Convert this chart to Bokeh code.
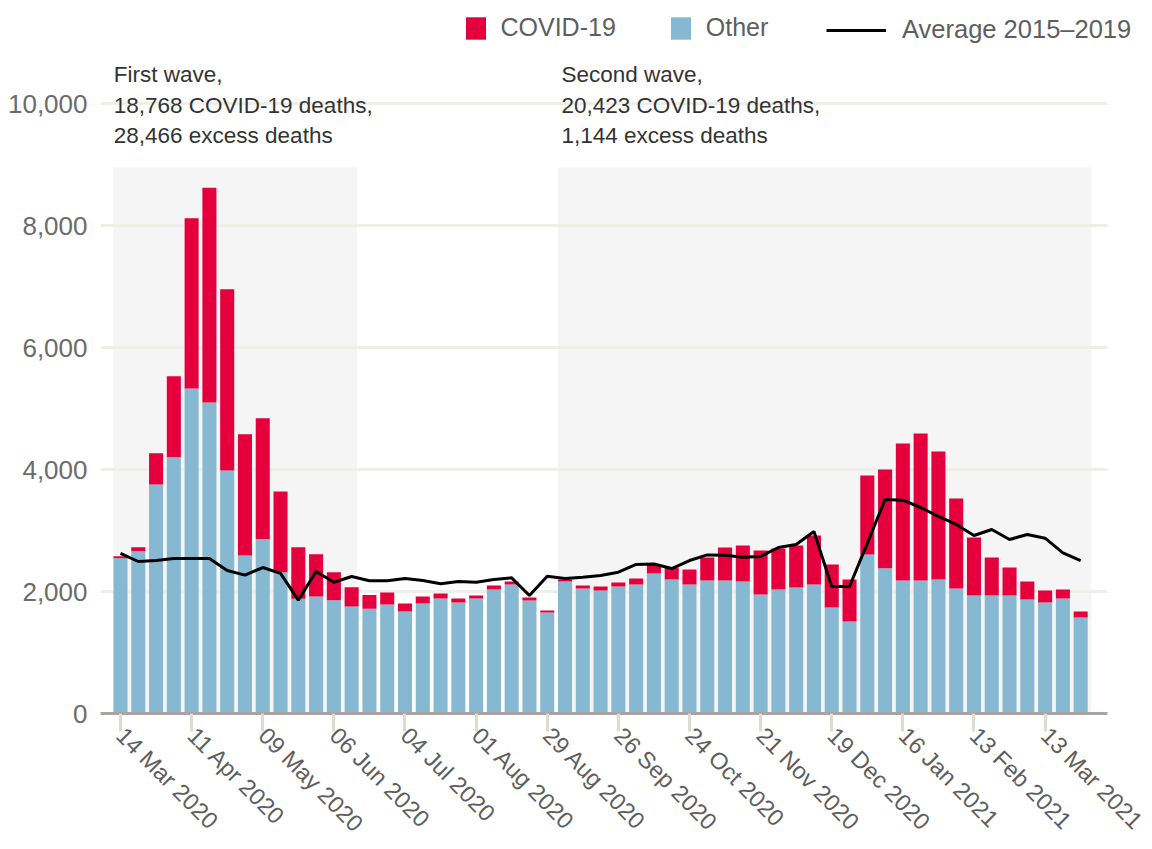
import math
from bokeh.plotting import figure
from bokeh.models import (ColumnDataSource, FixedTicker, Legend, LegendItem,
                          NumeralTickFormatter)
from bokeh.embed import file_html
from bokeh.resources import INLINE
from bokeh.core.properties import value

# ---------------- data (weekly deaths, week ending 14 Mar 2020 .. 27 Mar 2021) ----
week_index = list(range(55))

other = [2545, 2660, 3755, 4200, 5330, 5100, 3985, 2590, 2860, 2315,
         1880, 1920, 1855, 1755, 1718, 1787, 1672, 1803, 1885, 1820,
         1885, 2033, 2115, 1852, 1656, 2164, 2049, 2016, 2082, 2115,
         2295, 2197, 2115, 2180, 2180, 2164, 1951, 2033, 2066, 2115,
         1738, 1508, 2607, 2380, 2180, 2180, 2197, 2049, 1934, 1934,
         1934, 1869, 1820, 1885, 1574]

covid = [35, 65, 510, 1330, 2790, 3520, 2970, 1990, 1980, 1325,
         845, 690, 460, 315, 225, 197, 131, 115, 82, 65,
         49, 65, 49, 50, 33, 33, 49, 66, 66, 98,
         145, 196, 246, 377, 541, 590, 721, 672, 688, 803,
         705, 689, 1295, 1620, 2246, 2410, 2098, 1476, 951, 623,
         459, 295, 196, 148, 98]

average = [2626, 2492, 2508, 2541, 2541, 2541, 2344, 2269, 2393, 2298,
           1859, 2328, 2152, 2246, 2175, 2175, 2213, 2180, 2126, 2164,
           2153, 2197, 2224, 1934, 2251, 2213, 2235, 2262, 2317, 2443,
           2450, 2377, 2508, 2600, 2595, 2560, 2574, 2721, 2770, 2984,
           2082, 2082, 2790, 3508, 3497, 3377, 3230, 3099, 2918, 3017,
           2853, 2934, 2874, 2634, 2508]

tick_index = [0, 4, 8, 12, 16, 20, 24, 28, 32, 36, 40, 44, 48, 52]
tick_labels = ["14 Mar 2020", "11 Apr 2020", "09 May 2020", "06 Jun 2020",
               "04 Jul 2020", "01 Aug 2020", "29 Aug 2020", "26 Sep 2020",
               "24 Oct 2020", "21 Nov 2020", "19 Dec 2020", "16 Jan 2021",
               "13 Feb 2021", "13 Mar 2021"]

y_ticks = [0, 2000, 4000, 6000, 8000, 10000]

# wave periods (in week-index units) and their notes
wave_left = [-0.4, 24.6]
wave_right = [13.3, 54.6]
wave_top = 8950
wave_notes = [["First wave,", "18,768 COVID-19 deaths,", "28,466 excess deaths"],
              ["Second wave,", "20,423 COVID-19 deaths,", "1,144 excess deaths"]]
note_x = [-0.38, 24.8]
note_y = [10470, 9970, 9470]

# plotted extent of the chart area (week-index units)
X_START, X_END = -1.125, 55.51

# ---------------- styling -----------------------------------------------------
FONT = "Liberation Sans"
RED = "#e5003d"
BLUE = "#87b8d1"
SHADE = "#f4f5f4"
GRID = "#efeee9"
TXT = "#5e5e5e"

src = ColumnDataSource(dict(x=week_index, other=other, covid=covid, avg=average))

p = figure(width=1152, height=849, x_range=(X_START, 58.04), y_range=(0, 11689),
           output_backend="svg", toolbar_location=None,
           min_border_left=100, min_border_right=0, min_border_top=0,
           min_border_bottom=136, outline_line_color=None)

# shaded wave backgrounds (lowest level)
p.quad(left=wave_left, right=wave_right, bottom=[0, 0], top=[wave_top, wave_top],
       fill_color=SHADE, line_color=None, level="image")

# horizontal gridlines limited to the chart area
p.segment(x0=[X_START] * len(y_ticks), x1=[X_END] * len(y_ticks),
          y0=y_ticks, y1=y_ticks, line_color=GRID, line_width=3, level="underlay")

bars = p.vbar_stack(["other", "covid"], x="x", width=0.79, source=src,
                    fill_color=[BLUE, RED], line_color=None)

avg_line = p.line("x", "avg", source=src, line_color="black", line_width=3)

# wave notes
nx, ny, nt = [], [], []
for i, lines in enumerate(wave_notes):
    for j, t in enumerate(lines):
        nx.append(note_x[i])
        ny.append(note_y[j])
        nt.append(t)
p.text(x=nx, y=ny, text=nt, text_font=value(FONT), text_font_size="22.5px",
       text_color="#333333", text_baseline="middle", text_align="left")

# axes
p.grid.grid_line_color = None

p.yaxis.ticker = FixedTicker(ticks=y_ticks)
p.yaxis.formatter = NumeralTickFormatter(format="0,0")
p.yaxis.axis_line_color = None
p.yaxis.major_tick_out = 0
p.yaxis.major_tick_in = 0
p.yaxis.minor_tick_out = 0
p.yaxis.minor_tick_in = 0
p.yaxis.major_label_standoff = 13
p.yaxis.major_label_text_font = FONT
p.yaxis.major_label_text_font_size = "26px"
p.yaxis.major_label_text_color = "#6b6b6b"

p.xaxis.bounds = (X_START, X_END)
p.xaxis.ticker = FixedTicker(ticks=tick_index)
p.xaxis.major_label_overrides = dict(zip(tick_index, tick_labels))
p.xaxis.major_label_orientation = -math.pi / 4
p.xaxis.major_label_standoff = 0
p.xaxis.major_label_text_font = FONT
p.xaxis.major_label_text_font_size = "23.5px"
p.xaxis.major_label_text_color = TXT
p.xaxis.axis_line_color = "#a9a49f"
p.xaxis.axis_line_width = 3
p.xaxis.major_tick_line_color = "#dddcd2"
p.xaxis.major_tick_line_width = 3
p.xaxis.major_tick_out = 18
p.xaxis.major_tick_in = 0
p.xaxis.minor_tick_line_color = None

# legends
leg1 = Legend(items=[LegendItem(label="COVID-19", renderers=[bars[1]]),
                     LegendItem(label="Other", renderers=[bars[0]])],
              orientation="horizontal", location=(362.5, 671),
              glyph_width=25, glyph_height=28, label_standoff=13, spacing=52,
              padding=0, margin=0, border_line_color=None,
              background_fill_alpha=0, label_text_font=FONT,
              label_text_font_size="25px", label_text_color=TXT)
leg2 = Legend(items=[LegendItem(label="Average 2015\u20132019", renderers=[avg_line])],
              orientation="horizontal", location=(726, 669),
              glyph_width=60, glyph_height=28, label_standoff=16,
              padding=0, margin=0, border_line_color=None,
              background_fill_alpha=0, label_text_font=FONT,
              label_text_font_size="25.5px", label_text_color=TXT)
p.add_layout(leg1)
p.add_layout(leg2)

open("out.html", "w").write(file_html(p, INLINE))
